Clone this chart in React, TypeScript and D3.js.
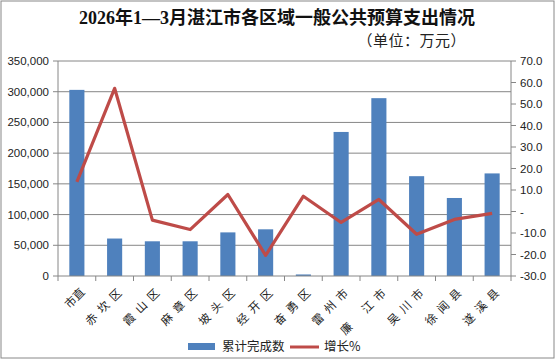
import React from 'react';
import * as d3 from 'd3';

// categories and values
const categories = ['市直', '赤 坎 区', '霞 山 区', '麻 章 区', '坡 头 区', '经 开 区', '奋 勇 区', '雷 州 市', '廉\u3000 江 市', '吴 川 市', '徐 闻 县', '遂 溪 县'];
const completed = [303000, 61000, 56500, 56500, 71000, 76000, 2500, 234500, 289500, 162500, 127000, 167000];
const growth = [13.8, 57.3, -4.0, -8.4, 7.9, -20.4, 7.1, -5.1, 5.6, -10.6, -3.7, -0.9];
const leftTicks = [0, 50000, 100000, 150000, 200000, 250000, 300000, 350000];
const rightTicks = [-30, -20, -10, 0, 10, 20, 30, 40, 50, 60, 70];

const W = 556, H = 360;
const margin = { top: 61, right: 45, bottom: 84, left: 58 };
const axisFont = '"Liberation Sans", Arial, "Noto Sans CJK SC", sans-serif';

const App = () => {
    const x0 = margin.left, x1 = W - margin.right;
    const y0 = H - margin.bottom, y1 = margin.top;

    const x = d3.scaleBand().domain(categories).range([x0, x1]).paddingInner(0).paddingOuter(0);
    const yL = d3.scaleLinear().domain([0, 350000]).range([y0, y1]);
    const yR = d3.scaleLinear().domain([-30, 70]).range([y0, y1]);
    const barW = x.bandwidth() * 0.4;
    const fmt = d3.format(',');

    const line = d3.line<number>()
        .x((d, i) => x(categories[i])! + x.bandwidth() / 2)
        .y(d => yR(d));

    return (
        <svg width={W} height={H} style={{ position: 'absolute', left: 0, top: 0, background: '#fff' }}>
            <rect x={1} y={1} width={W - 3} height={H - 3} fill="#fff" stroke="#888" strokeWidth={1} />

            <text x={W / 2 - 1} y={24} textAnchor="middle" fontSize={18} fontWeight="bold"
                  fontFamily='"Liberation Serif", "Noto Sans CJK SC", serif' fill="#111">
                2026年1—3月湛江市各区域一般公共预算支出情况
            </text>
            <text x={466} y={46} textAnchor="end" fontSize={15} letterSpacing={0.5}
                  fontFamily='"Noto Sans CJK SC", sans-serif' fill="#222">
                （单位：万元）
            </text>

            {/* gridlines */}
            {leftTicks.filter(t => t > 0).map(t => (
                <line key={t} x1={x0} x2={x1} y1={yL(t)} y2={yL(t)} stroke="#868686" strokeWidth={1} />
            ))}

            {/* bars */}
            {categories.map((c, i) => (
                <rect key={c} x={x(c)! + (x.bandwidth() - barW) / 2} y={yL(completed[i])}
                      width={barW} height={y0 - yL(completed[i])} fill="#4F81BD" />
            ))}

            {/* axes */}
            <line x1={x0} x2={x0} y1={y1} y2={y0} stroke="#868686" />
            <line x1={x1} x2={x1} y1={y1} y2={y0} stroke="#868686" />
            <line x1={x0} x2={x1} y1={y0} y2={y0} stroke="#868686" />
            {leftTicks.map(t => (
                <g key={'l' + t}>
                    <line x1={x0 - 5} x2={x0} y1={yL(t)} y2={yL(t)} stroke="#868686" />
                    <text x={x0 - 9} y={yL(t)} dy="0.35em" textAnchor="end" fontSize={11.5}
                          fontFamily={axisFont} fill="#222">{fmt(t)}</text>
                </g>
            ))}
            {rightTicks.map(t => (
                <g key={'r' + t}>
                    <line x1={x1} x2={x1 + 5} y1={yR(t)} y2={yR(t)} stroke="#868686" />
                    <text x={x1 + 9} y={yR(t)} dy="0.35em" textAnchor="start" fontSize={11.5}
                          fontFamily={axisFont} fill="#222">{t === 0 ? '-' : t.toFixed(1)}</text>
                </g>
            ))}
            {d3.range(categories.length + 1).map(i => (
                <line key={'b' + i} x1={x0 + i * x.bandwidth()} x2={x0 + i * x.bandwidth()}
                      y1={y0} y2={y0 + 5} stroke="#868686" />
            ))}

            {/* category labels */}
            {categories.map(c => {
                const cx = x(c)! + x.bandwidth() / 2 + 6;
                return (
                    <text key={'t' + c} transform={`translate(${cx},${y0 + 14}) rotate(-45)`}
                          textAnchor="end" dy="0.35em" fontSize={11.5} xmlSpace="preserve"
                          letterSpacing={c.length > 2 ? 1.5 : 0}
                          fontFamily='"Noto Sans CJK SC", sans-serif' fill="#222">{c}</text>
                );
            })}

            {/* growth line */}
            <path d={line(growth)!} fill="none" stroke="#BE4B48" strokeWidth={3.2} strokeLinejoin="round" />

            {/* legend */}
            <rect x={188} y={343} width={27} height={7} fill="#4F81BD" />
            <text x={222} y={351} fontSize={12.5} fontFamily='"Noto Sans CJK SC", sans-serif' fill="#222">累计完成数</text>
            <line x1={290} x2={319} y1={347} y2={347} stroke="#BE4B48" strokeWidth={3} />
            <text x={324} y={351} fontSize={12.5} fontFamily='"Noto Sans CJK SC", sans-serif' fill="#222">增长%</text>
        </svg>
    );
};

export default App;
